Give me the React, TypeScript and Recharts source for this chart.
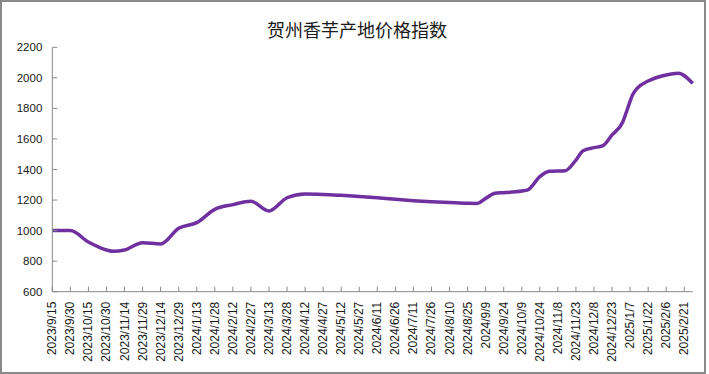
import React from 'react'
import { LineChart, Line, XAxis, YAxis } from 'recharts'

// x-axis labels (every 15 days)
const tickDates = [
  '2023/9/15', '2023/9/30', '2023/10/15', '2023/10/30', '2023/11/14', '2023/11/29',
  '2023/12/14', '2023/12/29', '2024/1/13', '2024/1/28', '2024/2/12', '2024/2/27',
  '2024/3/13', '2024/3/28', '2024/4/12', '2024/4/27', '2024/5/12', '2024/5/27',
  '2024/6/11', '2024/6/26', '2024/7/11', '2024/7/26', '2024/8/10', '2024/8/25',
  '2024/9/9', '2024/9/24', '2024/10/9', '2024/10/24', '2024/11/8', '2024/11/23',
  '2024/12/8', '2024/12/23', '2025/1/7', '2025/1/22', '2025/2/6', '2025/2/21',
]

// sampled points along the curve
const pointDates = [
  '2023/9/15', '2023/9/30', '2023/10/15', '2023/10/30', '2023/11/5', '2023/11/14',
  '2023/11/29', '2023/12/14', '2023/12/29', '2024/1/13', '2024/1/28', '2024/2/12',
  '2024/2/27', '2024/3/13', '2024/3/28', '2024/4/12', '2024/4/27', '2024/5/12',
  '2024/5/27', '2024/6/11', '2024/6/26', '2024/7/11', '2024/7/26', '2024/8/10',
  '2024/8/25', '2024/9/2', '2024/9/9', '2024/9/17', '2024/9/24', '2024/10/9',
  '2024/10/14', '2024/10/24', '2024/11/1', '2024/11/14', '2024/11/23', '2024/11/29',
  '2024/12/8', '2024/12/15', '2024/12/23', '2025/1/1', '2025/1/5', '2025/1/9',
  '2025/1/13', '2025/1/22', '2025/2/6', '2025/2/16', '2025/2/28',
]
const priceIndex = [
  1000, 1000, 925, 873, 864, 873,
  921, 912, 1015, 1052, 1139, 1170,
  1192, 1129, 1215, 1240, 1237, 1231,
  1224, 1215, 1205, 1196, 1189, 1184,
  1179, 1178, 1211, 1245, 1248, 1259,
  1266, 1353, 1388, 1392, 1462, 1523,
  1543, 1554, 1626, 1713, 1801, 1888,
  1932, 1979, 2019, 2030, 1964,
]

const yTicks = [600, 800, 1000, 1200, 1400, 1600, 1800, 2000, 2200]

const dayIndex = (s: string) => {
  const [y, m, d] = s.split('/').map(Number)
  return Math.round((Date.UTC(y, m - 1, d) - Date.UTC(2023, 8, 15)) / 86400000)
}

const tickDays = tickDates.map(dayIndex)
const data = pointDates.map((d, i) => ({ day: dayIndex(d), value: priceIndex[i] }))
const lastDay = data[data.length - 1].day

const axisColor = '#898989'

function XTick(props: any) {
  const { x, y, payload } = props
  const idx = tickDays.indexOf(payload.value)
  const label = idx >= 0 ? tickDates[idx] : ''
  const ty = y + 10
  return (
    <g>
      <line x1={x} y1={y} x2={x} y2={y - 5} stroke={axisColor} />
      <text
        x={x}
        y={ty}
        transform={`rotate(-90 ${x} ${ty})`}
        textAnchor="end"
        dominantBaseline="central"
        fontSize={12}
        fontFamily="'Liberation Sans', Arial, sans-serif"
        fill="#1a1a1a"
      >
        {label}
      </text>
    </g>
  )
}

function YTick(props: any) {
  const { x, y, payload } = props
  return (
    <g>
      <line x1={x} y1={y} x2={x + 5} y2={y} stroke={axisColor} />
      <text
        x={x - 10}
        y={y}
        textAnchor="end"
        dominantBaseline="central"
        fontSize={11.5}
        fontFamily="'Liberation Sans', Arial, sans-serif"
        fill="#1a1a1a"
      >
        {payload.value}
      </text>
    </g>
  )
}

export default function App() {
  return (
    <div
      style={{
        position: 'absolute',
        left: 0,
        top: 0,
        width: 706,
        height: 374,
        boxSizing: 'border-box',
        border: `2px solid ${axisColor}`,
        background: '#fff',
      }}
    >
      <div
        style={{
          position: 'absolute',
          top: 18,
          left: 4,
          width: 702,
          textAlign: 'center',
          fontFamily: "'Noto Sans CJK SC', sans-serif",
          fontSize: 18,
          lineHeight: '18px',
          color: '#1a1a1a',
        }}
      >
        贺州香芋产地价格指数
      </div>
      <LineChart
        width={702}
        height={370}
        data={data}
        margin={{ top: 45.3, right: 11.3, bottom: 20.3, left: 10.3 }}
      >
        <XAxis
          dataKey="day"
          type="number"
          domain={[0, lastDay]}
          ticks={tickDays}
          interval={0}
          height={60}
          axisLine={{ stroke: axisColor }}
          tickLine={false}
          tickSize={0}
          tickMargin={0}
          tick={(p: any) => <XTick {...p} />}
        />
        <YAxis
          domain={[600, 2200]}
          ticks={yTicks}
          interval={0}
          width={40}
          axisLine={{ stroke: axisColor }}
          tickLine={false}
          tickSize={0}
          tickMargin={0}
          tick={(p: any) => <YTick {...p} />}
        />
        <Line
          type="monotone"
          dataKey="value"
          stroke="#7030a0"
          strokeWidth={3.5}
          dot={false}
          isAnimationActive={false}
        />
      </LineChart>
    </div>
  )
}
